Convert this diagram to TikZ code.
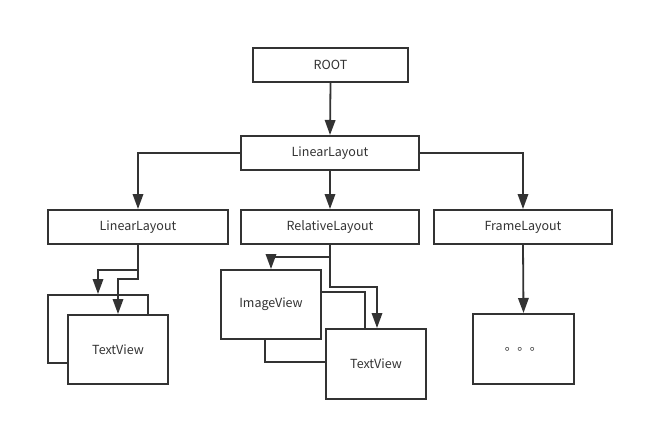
\documentclass[tikz,border=0pt]{standalone}
\usepackage{fontspec}
\setmainfont{Noto Sans CJK SC}
\newfontfamily\cjk{Noto Sans CJK SC}
\usetikzlibrary{arrows.meta}
\definecolor{ink}{HTML}{333333}
\begin{document}
\begin{tikzpicture}[x=1pt,y=-1pt,
  box/.style={draw=ink,line width=2pt,fill=white,inner sep=0pt,font=\fontsize{12.5}{14}\selectfont,text=ink},
  conn/.style={draw=ink,line width=1.8pt,-{Triangle[width=10.5pt,length=15pt]}}]
\useasboundingbox (0,0) rectangle (645,431);
% boxes by corners
\newcommand\mybox[6]{\node[box,minimum width=#4-#2,minimum height=#5-#3] (#1) at ({(#2+#4)/2},{(#3+#5)/2}) {#6};}
\mybox{root}{253}{48}{408}{82}{ROOT}
\mybox{ll}{241}{136}{419}{170}{LinearLayout}
\mybox{lla}{48}{210}{228}{244}{LinearLayout}
\mybox{rl}{241}{210}{419}{244}{RelativeLayout}
\mybox{fl}{434}{210}{612}{244}{FrameLayout}
% left group
\mybox{lback}{48}{295}{148}{363}{}
\mybox{ltv}{68}{315}{168}{384}{TextView}
% middle group
\mybox{mback}{265}{292}{365}{362}{}
\mybox{iv}{221}{270}{321}{339}{ImageView}
\mybox{mtv}{326}{329}{426}{399}{TextView}
% right group
\mybox{dots}{473}{314}{574}{384}{\cjk 。。。}
% connectors
\draw[conn] (root.south) -- (ll.north);
\draw[conn] (ll.west) -| (lla.north -| 138,0);
\draw[conn] (ll.south) -- (rl.north);
\draw[conn] (ll.east) -| (fl.north);
\draw[conn] (138,244) |- (98,270) -- (lback.north -| 98,0);
\draw[conn] (138,244) |- (118,279) -- (ltv.north -| 118,0);
\draw[conn] (rl.south) |- (271,257) -- (iv.north -| 271,0);
\draw[conn] (rl.south) |- (377,287) -- (mtv.north -| 377,0);
\draw[conn] (fl.south) -- (dots.north);
\end{tikzpicture}
\end{document}
